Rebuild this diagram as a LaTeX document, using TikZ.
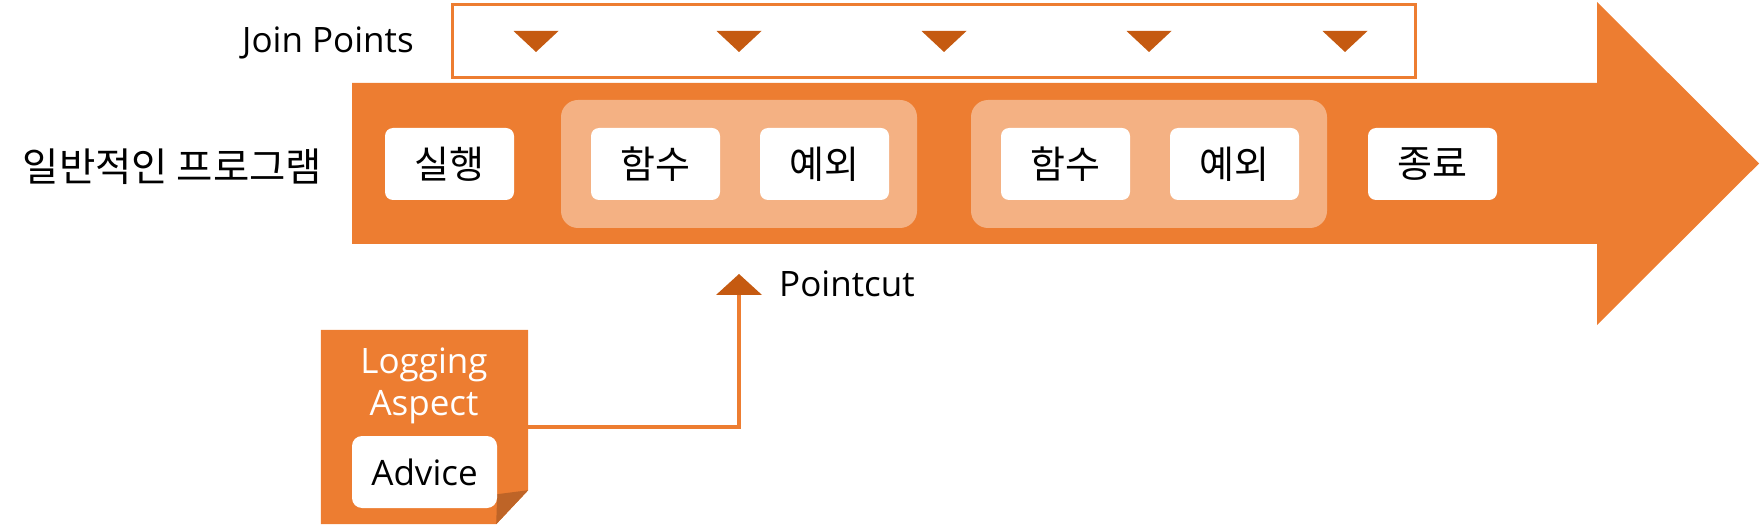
\documentclass[tikz,border=0pt]{standalone}
\usepackage{fontspec}
\setmainfont{Open Sans}
\newfontfamily\kr{Noto Sans CJK KR}
\definecolor{acc}{HTML}{ED7D31}
\definecolor{dk}{HTML}{C55A11}
\definecolor{lt}{HTML}{F4B183}
\definecolor{foldc}{HTML}{BE6427}
\newcommand\myfs{\fontsize{35}{42}\selectfont}
\newcommand\krfs{\fontsize{38}{42}\selectfont}
\tikzset{
  wbox/.style={fill=white, rounded corners=8pt, minimum width=129pt, minimum height=72pt, inner sep=0pt, font=\kr\krfs, text=black},
  panel/.style={fill=lt, rounded corners=17pt, minimum width=356pt, minimum height=128pt, inner sep=0pt},
  jtri/.style={fill=dk},
  lbl/.style={inner sep=0pt, text=black, font=\myfs},
}
\begin{document}
\begin{tikzpicture}[x=1pt,y=-1pt]
\useasboundingbox (0,0) rectangle (1760,526);
% main arrow
\fill[acc] (352,83) -- (1597,83) -- (1597,2) -- (1759,163.5) -- (1597,325) -- (1597,244) -- (352,244) -- cycle;
% join points box
\node[draw=acc, line width=2.7pt, minimum width=963pt, minimum height=72.8pt, inner sep=0pt] (jpbox) at (934,41) {};
\foreach \cx in {536,739,944,1149,1345}
  \fill[jtri] (\cx-22.5,31) -- (\cx+22.5,31) -- (\cx,52) -- cycle;
\node[lbl, anchor=base west] (jplabel) at (242,53) {Join Points};
\node[lbl, font=\kr\fontsize{39.5}{42}\selectfont, anchor=center] (prog) at (172.5,167) {일반적인 프로그램};
% panels
\node[panel] (p1) at (739,164) {};
\node[panel] (p2) at (1149,164) {};
\node[wbox] (run) at (449.5,164) {실행};
\node[wbox] (f1) at (655.5,164) {함수};
\node[wbox] (e1) at (824.5,164) {예외};
\node[wbox] (f2) at (1065.5,164) {함수};
\node[wbox] (e2) at (1234.5,164) {예외};
\node[wbox] (end) at (1432.5,164) {종료};
% logging aspect
\node[minimum width=207pt, minimum height=194pt, inner sep=0pt] (la) at (424.5,427) {};
\fill[acc] (la.north west) -- (la.north east) -- ([yshift=34pt]la.south east) -- ([xshift=-32pt]la.south east) -- (la.south west) -- cycle;
\fill[foldc] ([yshift=34pt]la.south east) -- ([xshift=-32pt]la.south east) -- ([xshift=-31pt,yshift=30pt]la.south east) -- cycle;
\node[lbl, text=white, align=center, anchor=north] (latext) at (424,348) {Logging\\Aspect};
\node[fill=white, rounded corners=10pt, minimum width=145pt, minimum height=72pt, inner sep=0pt, font=\myfs, text=black] (adv) at (424.5,472) {Advice};
% pointcut
\coordinate (pcbase) at (739,295);
\draw[acc, line width=4pt] (la.east) -| (pcbase);
\fill[dk] ([xshift=-23pt]pcbase) -- ([xshift=23pt]pcbase) -- ([yshift=21pt]pcbase) -- cycle;
\node[lbl, anchor=base west] (pclabel) at (779,297) {Pointcut};
\end{tikzpicture}
\end{document}
